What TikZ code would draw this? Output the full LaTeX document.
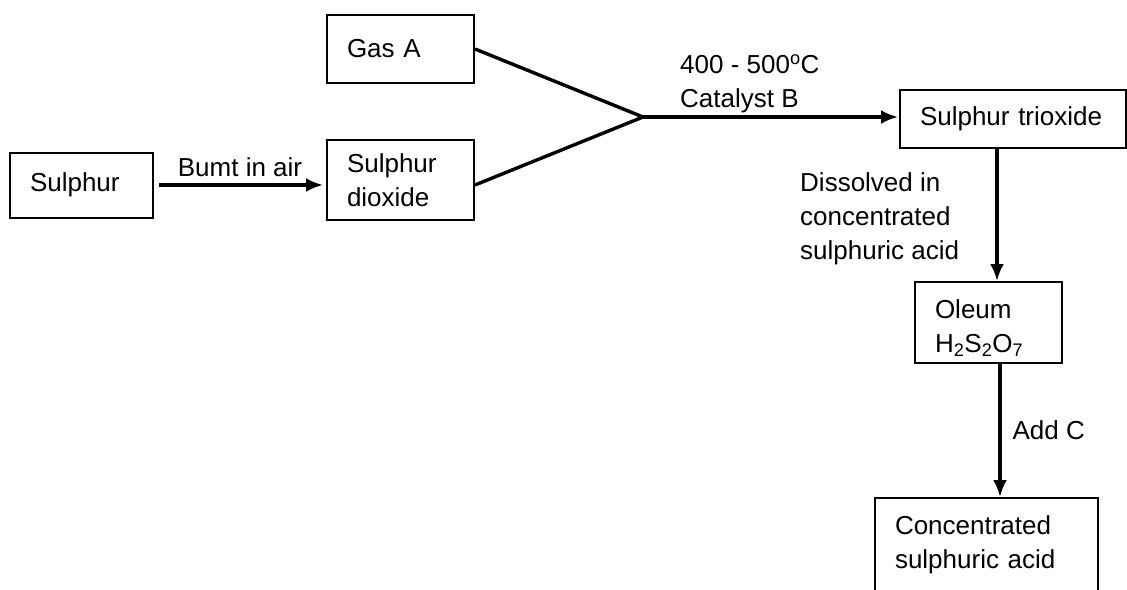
\documentclass[tikz,border=0pt]{standalone}
\usepackage{fontspec}
\setmainfont{Liberation Sans}
\usetikzlibrary{arrows.meta,positioning,calc}
\tikzset{
  block/.style={draw, line width=2pt, align=left, inner xsep=20pt, inner ysep=0pt,
    font=\fontsize{26}{34}\selectfont},
  note/.style={align=left, inner sep=3pt, font=\fontsize{26}{34}\selectfont},
  feed/.style={line width=3.4pt},
  arrow/.style={-{Latex[length=17pt,width=14pt]}, line width=3.2pt}
}

\begin{document}
\begin{tikzpicture}[x=1pt, y=-1pt]
  \clip (0,0) rectangle (1127,589);
  \node[block, text width=103pt, minimum height=65pt] (sulphur) at (81.5,185) {Sulphur};
  \node[block, text width=107pt, minimum height=68pt] (gasa) at (400.5,49) {Gas A};
  \node[block, text width=107pt, minimum height=80pt] (dioxide) at (400.5,180) {Sulphur\\dioxide};
  \node[block, text width=186pt, minimum height=58pt] (trioxide) at (1013,119) {Sulphur trioxide};
  \node[block, text width=107pt, minimum height=81pt] (oleum) at (988.5,322.5) {\rule{0pt}{30pt}Oleum\\H\textsubscript{2}S\textsubscript{2}O\textsubscript{7}};
  \node[block, text width=183pt, minimum height=94pt] (acid) at (986.5,545) {Concentrated\\sulphuric acid};

  \coordinate (join) at (643,117);
  \node[note, anchor=west] (cond) at (677,84) {400 - 500\textsuperscript{o}C\\Catalyst B};
  \node[note, anchor=west] (dissolve) at (797,219) {Dissolved in\\concentrated\\sulphuric acid};

  \draw[arrow, shorten <=5pt, shorten >=3pt] (sulphur.east) -- node[note, above=4pt] {Bumt in air} (sulphur.east -| dioxide.west);
  \draw[feed] (gasa.east) -- (join);
  \draw[feed] ([yshift=-5pt]dioxide.east) -- (join);
  \draw[arrow, shorten >=1pt] (join) -- (join -| trioxide.west);
  \draw[arrow] ([xshift=-16pt]trioxide.south) -- ([xshift=-16pt]trioxide.south |- oleum.north);
  \draw[arrow] ([xshift=11.5pt]oleum.south) -- node[note, right, xshift=8pt] (addc) {Add C} ([xshift=11.5pt]oleum.south |- acid.north);
\end{tikzpicture}
\end{document}
